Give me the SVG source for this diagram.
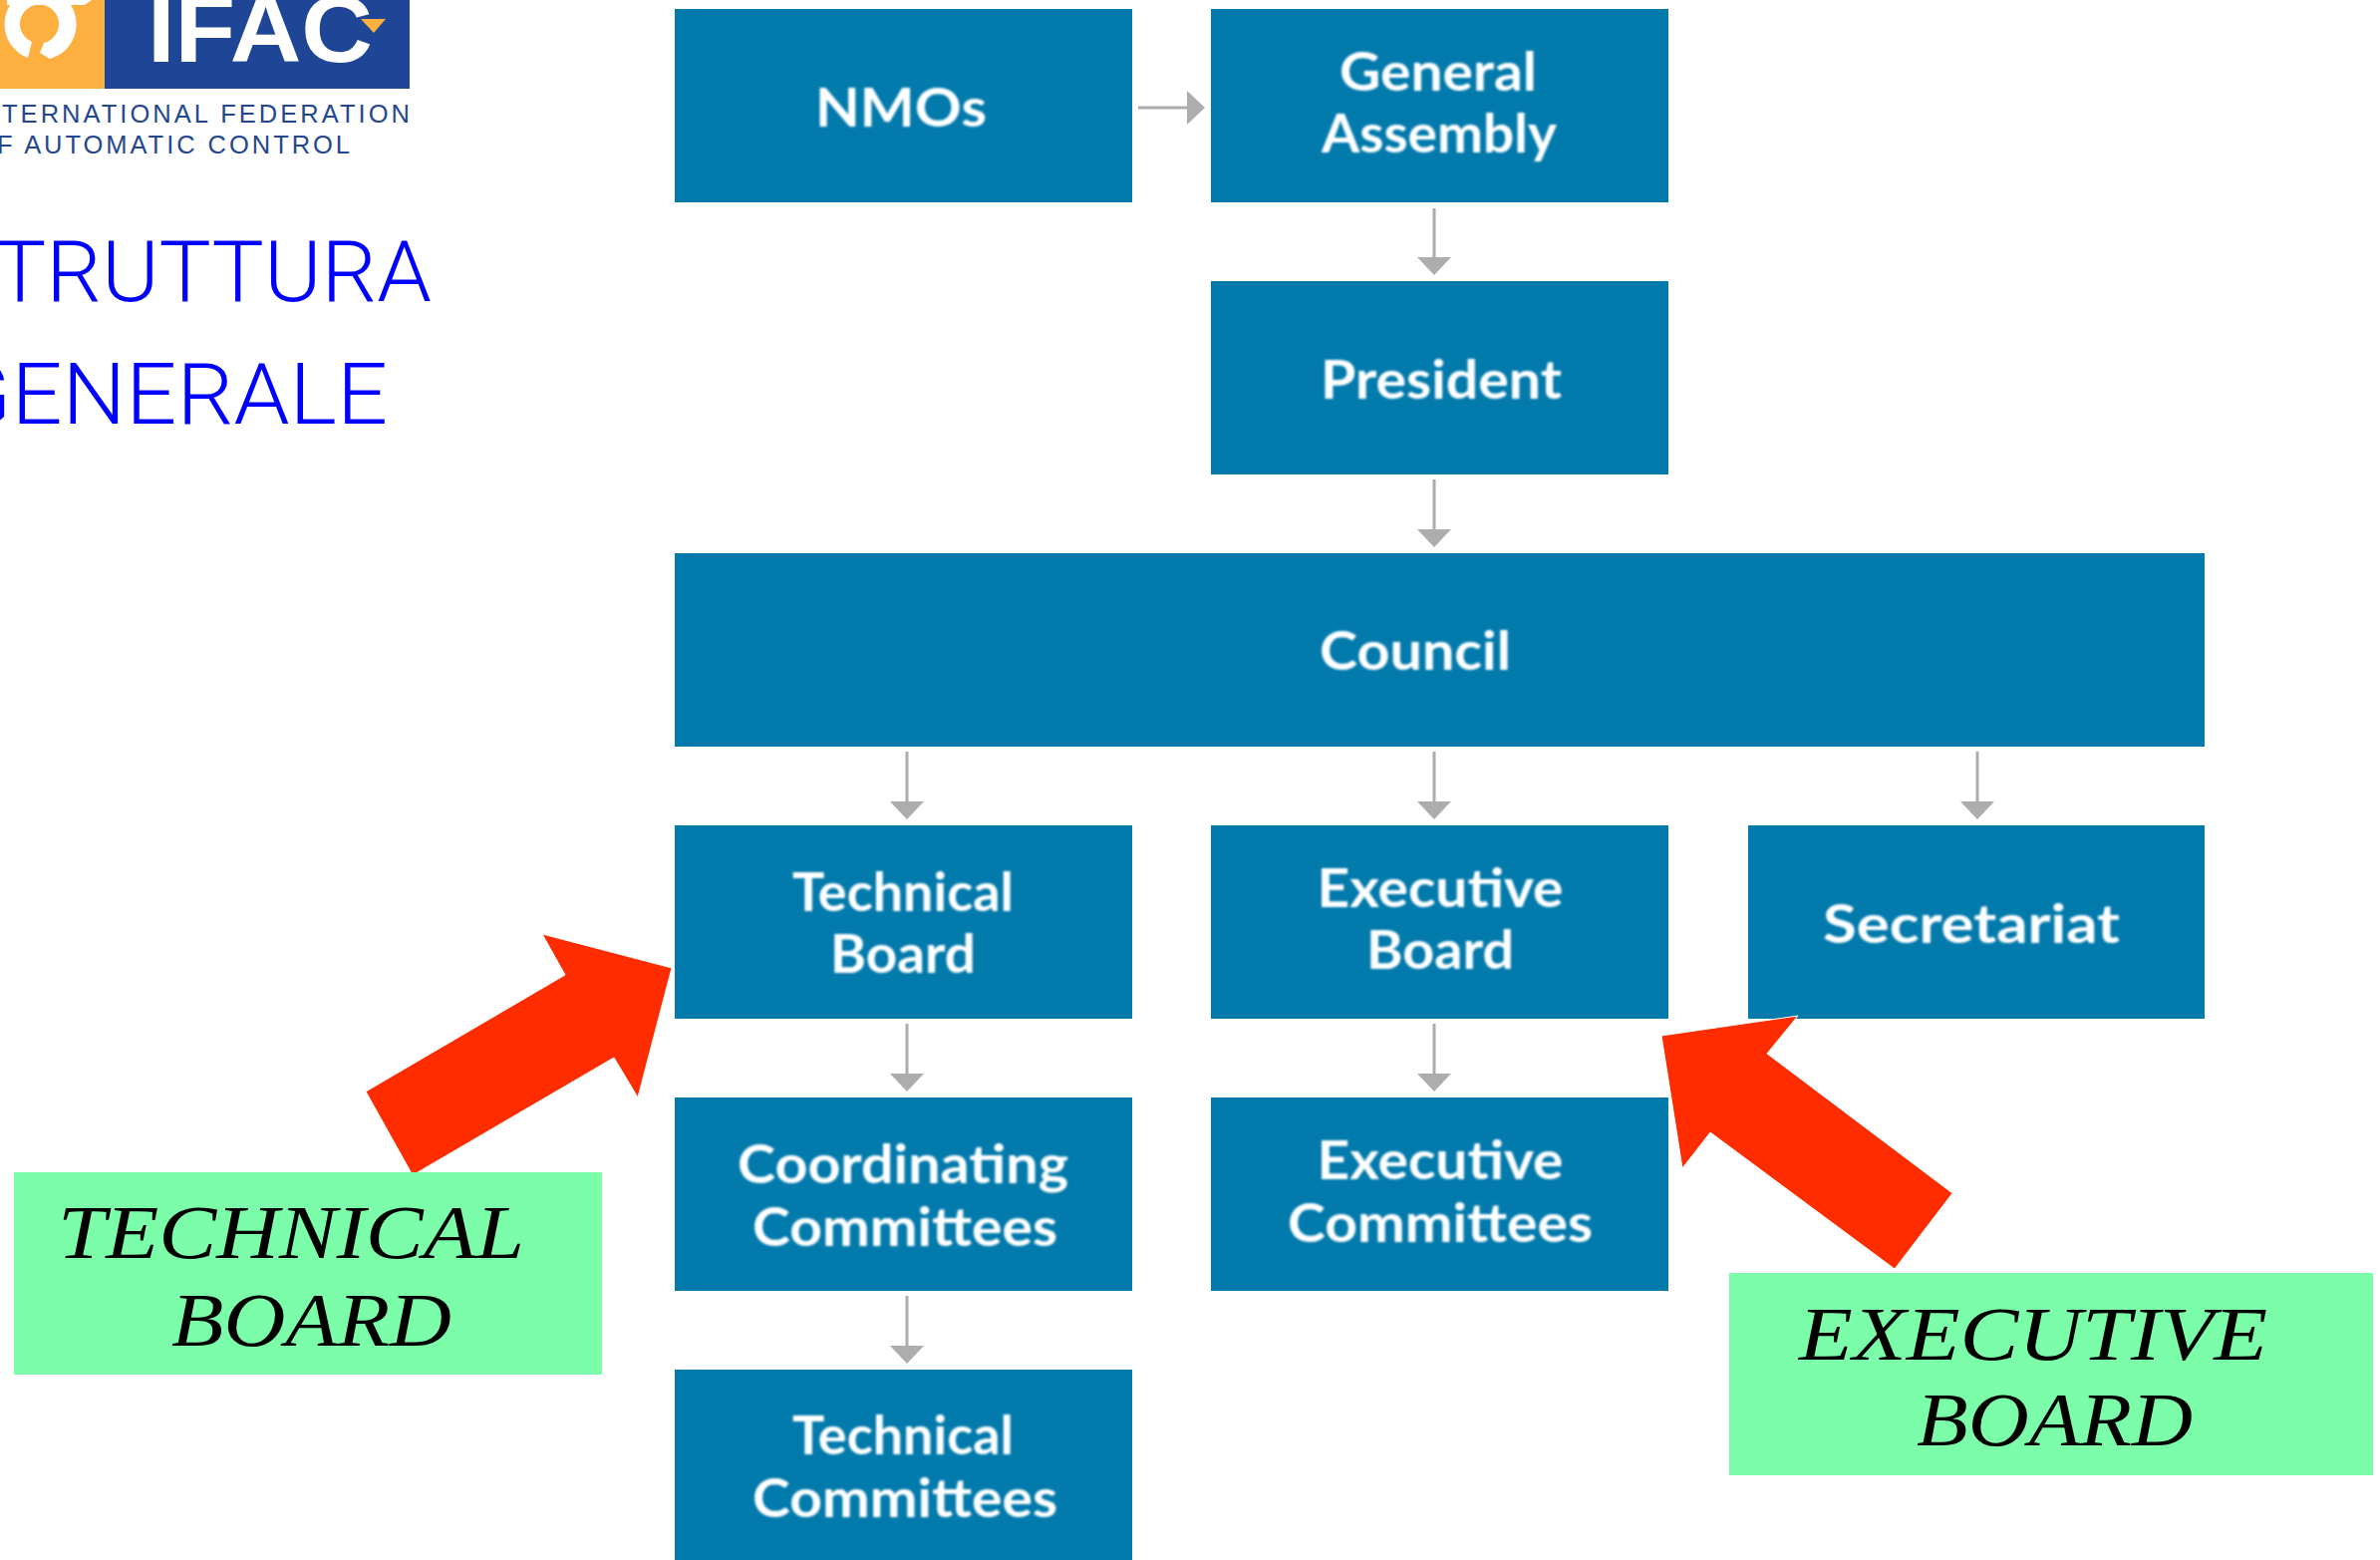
<svg xmlns="http://www.w3.org/2000/svg" width="2388" height="1565" viewBox="0 0 2388 1565">
<style>
.box{fill:#027aac}
.lbl{font-family:Lato,"Noto Sans",sans-serif;font-weight:700;font-size:53px;fill:#fff;text-anchor:middle;filter:url(#soft)}
.conn{stroke:#adadad;stroke-width:3;fill:none;marker-end:url(#ah)}
.red{fill:#ff2c00;stroke:#fff;stroke-width:1}
.green{fill:#7bfda9}
.cal{font-family:"Liberation Serif",serif;font-style:italic;font-size:76px;fill:#000}
.sub{font-family:"Liberation Sans",Arial,sans-serif;font-size:25.5px;fill:#23478f}
.title{font-family:Roboto,"Liberation Sans",Arial,sans-serif;font-weight:300;font-size:86px;fill:#00f}
</style>
<defs>
<filter id="soft" x="-5%" y="-20%" width="110%" height="140%"><feGaussianBlur stdDeviation="0.8"/></filter>
<marker id="ah" markerUnits="userSpaceOnUse" markerWidth="20" markerHeight="34" refX="1" refY="17" orient="auto"><path d="M0 0L18 17L0 34Z" fill="#adadad"/></marker>
</defs>
<rect width="2388" height="1565" fill="#fff"/>
<g id="logo">
<rect x="0" y="0" width="105" height="89" fill="#fdb03f"/>
<rect x="105" y="0" width="306" height="89" fill="#1f4696"/>
<path d="M28 58A36 36 0 1 1 50 59L40 53L44 43A19.500 19.500 0 1 0 32 42Z" fill="#fff"/>
<path d="M7 0H92L85 5H7Z" fill="#fff"/>
<text x="148" y="62" font-family="Liberation Sans,Arial,sans-serif" font-weight="700" font-size="94" fill="#fff" textLength="226" lengthAdjust="spacingAndGlyphs">IFAC</text>
<path d="M362 19H387L375 33Z" fill="#fdb03f"/>
<text class="sub" x="2" y="123" textLength="409" lengthAdjust="spacing">TERNATIONAL FEDERATION</text>
<text class="sub" x="-3" y="154" textLength="354" lengthAdjust="spacing">F AUTOMATIC CONTROL</text>
</g>
<g id="title">
<text class="title" x="-6" y="302" textLength="439" lengthAdjust="spacingAndGlyphs">TRUTTURA</text>
<text class="title" x="-50" y="425" textLength="439" lengthAdjust="spacingAndGlyphs">GENERALE</text>
</g>
<g id="connectors">
<line class="conn" x1="1142" y1="108" x2="1192" y2="108"/>
<line class="conn" x1="1439" y1="209" x2="1439" y2="259"/>
<line class="conn" x1="1439" y1="481" x2="1439" y2="532"/>
<line class="conn" x1="910" y1="754" x2="910" y2="805"/>
<line class="conn" x1="1439" y1="754" x2="1439" y2="805"/>
<line class="conn" x1="1984" y1="754" x2="1984" y2="805"/>
<line class="conn" x1="910" y1="1027" x2="910" y2="1078"/>
<line class="conn" x1="1439" y1="1027" x2="1439" y2="1078"/>
<line class="conn" x1="910" y1="1300" x2="910" y2="1351"/>
</g>
<g id="nmos"><rect class="box" x="677" y="9" width="459" height="194"/><text class="lbl" x="904" y="126.500" textLength="172" lengthAdjust="spacingAndGlyphs">NMOs</text></g>
<g id="general-assembly"><rect class="box" x="1215" y="9" width="459" height="194"/><text class="lbl" x="1443" y="91" textLength="198" lengthAdjust="spacingAndGlyphs">General</text><text class="lbl" x="1444" y="153" textLength="236" lengthAdjust="spacingAndGlyphs">Assembly</text></g>
<g id="president"><rect class="box" x="1215" y="282" width="459" height="194"/><text class="lbl" x="1446" y="399.500" textLength="242" lengthAdjust="spacingAndGlyphs">President</text></g>
<g id="council"><rect class="box" x="677" y="555" width="1535" height="194"/><text class="lbl" x="1420" y="672" textLength="192" lengthAdjust="spacingAndGlyphs">Council</text></g>
<g id="technical-board"><rect class="box" x="677" y="828" width="459" height="194"/><text class="lbl" x="906" y="913.500" textLength="222" lengthAdjust="spacingAndGlyphs">Technical</text><text class="lbl" x="906" y="975.500" textLength="146" lengthAdjust="spacingAndGlyphs">Board</text></g>
<g id="executive-board"><rect class="box" x="1215" y="828" width="459" height="194"/><text class="lbl" x="1445" y="909.500" textLength="247" lengthAdjust="spacingAndGlyphs">Executive</text><text class="lbl" x="1445" y="971.500" textLength="148" lengthAdjust="spacingAndGlyphs">Board</text></g>
<g id="secretariat"><rect class="box" x="1754" y="828" width="458" height="194"/><text class="lbl" x="1978" y="945.500" textLength="298" lengthAdjust="spacingAndGlyphs">Secretariat</text></g>
<g id="coordinating-committees"><rect class="box" x="677" y="1101" width="459" height="194"/><text class="lbl" x="906" y="1186.500" textLength="332" lengthAdjust="spacingAndGlyphs">Coordinating</text><text class="lbl" x="908" y="1249.500" textLength="306" lengthAdjust="spacingAndGlyphs">Committees</text></g>
<g id="executive-committees"><rect class="box" x="1215" y="1101" width="459" height="194"/><text class="lbl" x="1445" y="1182.500" textLength="247" lengthAdjust="spacingAndGlyphs">Executive</text><text class="lbl" x="1445" y="1245.500" textLength="306" lengthAdjust="spacingAndGlyphs">Committees</text></g>
<g id="technical-committees"><rect class="box" x="677" y="1374" width="459" height="191"/><text class="lbl" x="906" y="1458.500" textLength="222" lengthAdjust="spacingAndGlyphs">Technical</text><text class="lbl" x="908" y="1521.500" textLength="306" lengthAdjust="spacingAndGlyphs">Committees</text></g>
<g id="technical-callout">
<polygon class="red" points="674,971 544,937 567,978 367,1095 414,1179 616,1061 640,1101"/>
<rect class="green" x="14" y="1176" width="590" height="203"/>
<text class="cal" x="58" y="1262" textLength="468" lengthAdjust="spacingAndGlyphs">TECHNICAL</text>
<text class="cal" x="172" y="1350" textLength="281" lengthAdjust="spacingAndGlyphs">BOARD</text>
</g>
<g id="executive-callout">
<polygon class="red" points="1667,1039 1804,1019 1773,1057 1959,1197 1901,1273 1716,1136 1688,1172"/>
<rect class="green" x="1735" y="1277" width="646" height="203"/>
<text class="cal" x="1805" y="1364" textLength="470" lengthAdjust="spacingAndGlyphs">EXECUTIVE</text>
<text class="cal" x="1923" y="1450" textLength="277" lengthAdjust="spacingAndGlyphs">BOARD</text>
</g>
</svg>
